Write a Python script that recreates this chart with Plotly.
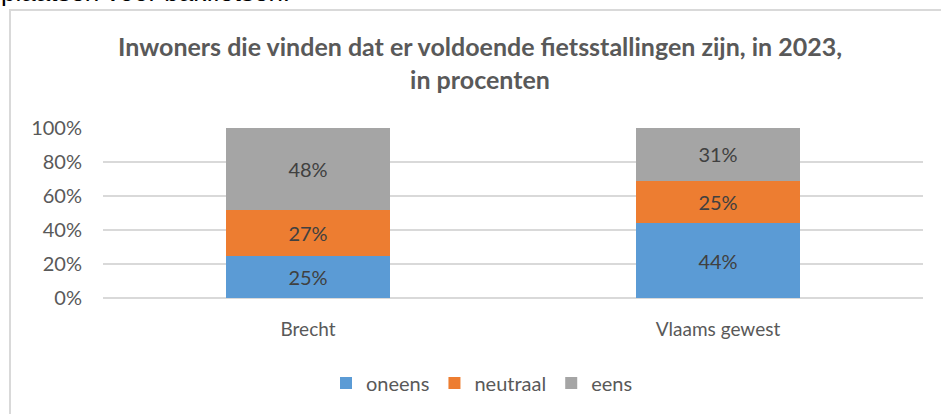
import plotly.graph_objects as go

# Survey answers per region, shares in percent
regions = ["Brecht", "Vlaams gewest"]
answers = ["oneens", "neutraal", "eens"]
oneens = [25, 44]
neutraal = [27, 25]
eens = [48, 31]
y_ticks = [0, 20, 40, 60, 80, 100]
y_tick_labels = ["0%", "20%", "40%", "60%", "80%", "100%"]

colors = {"oneens": "#5B9BD5", "neutraal": "#ED7D31", "eens": "#A5A5A5"}
series = {"oneens": oneens, "neutraal": neutraal, "eens": eens}

FONT = "Lato"
TEXT_GREY = "#595959"

fig = go.Figure()
for name in answers:
    vals = series[name]
    fig.add_trace(go.Bar(
        name=name,
        x=regions,
        y=vals,
        marker=dict(color=colors[name], line=dict(width=0)),
        text=[f"{v}%" for v in vals],
        textposition="inside",
        insidetextanchor="middle",
        textangle=0,
        textfont=dict(family=FONT, size=20, color="#404040"),
        hoverinfo="skip",
    ))

fig.update_layout(
    width=941,
    height=414,
    barmode="stack",
    bargap=0.6,
    paper_bgcolor="white",
    plot_bgcolor="white",
    margin=dict(l=103, r=18, t=128, b=116),
    title=dict(
        text="<b>Inwoners die vinden dat er voldoende fietsstallingen zijn, in 2023,<br>in procenten</b>",
        x=480 / 941,
        xanchor="center",
        y=1 - 56 / 414,
        yanchor="top",
        font=dict(family=FONT, size=25, color=TEXT_GREY),
    ),
    uniformtext=dict(mode="show", minsize=10),
    showlegend=True,
    legend=dict(
        orientation="h",
        x=(482 - 103) / 820,
        xanchor="center",
        y=-(383 - 298) / 170,
        yanchor="middle",
        font=dict(family=FONT, size=20, color=TEXT_GREY),
        traceorder="normal",
        itemsizing="constant",
        itemwidth=30,
    ),
    xaxis=dict(
        range=[-0.5, 1.5],
        showgrid=False,
        showline=False,
        zeroline=False,
        ticks="",
        ticklabelstandoff=18,
        tickfont=dict(family=FONT, size=19, color=TEXT_GREY),
    ),
    yaxis=dict(
        range=[0, 100],
        tickvals=y_ticks,
        ticktext=y_tick_labels,
        showgrid=True,
        gridcolor="#D9D9D9",
        gridwidth=1.5,
        zeroline=True,
        zerolinecolor="#D9D9D9",
        zerolinewidth=1.5,
        showline=False,
        ticks="",
        ticklabelstandoff=20,
        tickfont=dict(family=FONT, size=20, color=TEXT_GREY),
    ),
)

# Chart frame and the tail of the preceding paragraph above it
px_x = lambda p: (p - 103) / 820
px_y = lambda p: (298 - p) / 170
fig.add_shape(
    type="rect", xref="paper", yref="paper",
    x0=px_x(10), x1=px_x(960), y0=px_y(440), y1=px_y(10),
    line=dict(color="#D9D9D9", width=2), fillcolor="rgba(0,0,0,0)",
    layer="below",
)
fig.add_annotation(
    text="plaatsen voor bakfietsen.",
    xref="paper", yref="paper",
    x=px_x(-1), xanchor="left",
    y=px_y(9), yanchor="bottom",
    showarrow=False,
    font=dict(family="Liberation Sans", size=26, color="#000000"),
)

fig.write_html("out.html")
